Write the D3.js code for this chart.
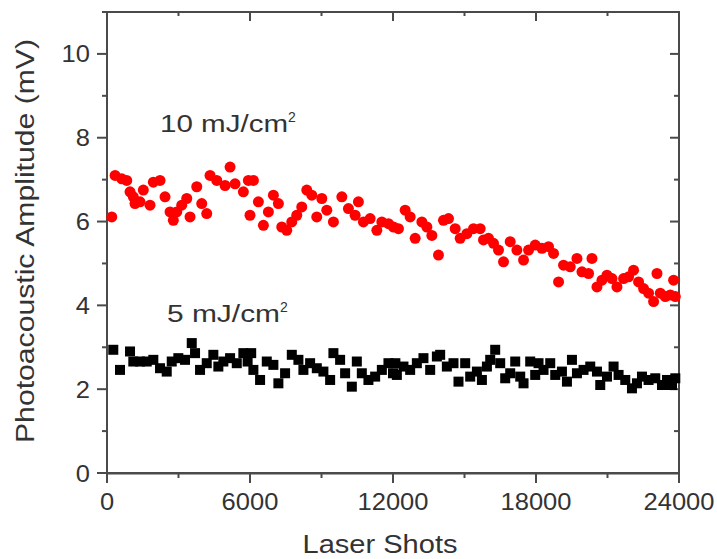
<!DOCTYPE html>
<html>
<head>
<meta charset="utf-8">
<script src="https://cdn.jsdelivr.net/npm/d3@7"></script>
<style>
html,body{margin:0;padding:0;background:#fff;}
svg{display:block;}
text{font-family:"Liberation Sans", Arial, sans-serif;fill:#333;}
</style>
</head>
<body>
<script>
// ---- data ----
const redShots = [200,340,620,827,966,1104,1175,1385,1524,1805,1944,2225,2435,2645,2783,2926,3136,3346,3484,3766,3975,4185,4324,4605,4954,5164,5373,5722,5932,6000,6142,6352,6562,6772,6981,7191,7333,7542,7752,7962,8172,8382,8592,8802,9012,9222,9500,9853,10130,10411,10549,10759,11040,11322,11532,11810,12020,12229,12510,12720,12930,13211,13421,13631,13908,14118,14328,14609,14819,15100,15377,15658,15797,16007,16217,16427,16637,16918,17199,17477,17687,17967,18249,18526,18736,18946,19155,19437,19718,19928,20205,20348,20558,20768,20978,21188,21397,21675,21884,22094,22304,22514,22724,22934,23077,23215,23425,23635,23774,23845];
const redAmp = [6.11,7.10,7.02,6.98,6.71,6.59,6.43,6.47,6.75,6.39,6.94,6.98,6.59,6.23,6.03,6.23,6.39,6.55,6.11,6.83,6.43,6.19,7.10,6.98,6.86,7.30,6.90,6.71,6.98,6.15,6.98,6.47,5.91,6.23,6.63,6.43,5.87,5.79,5.99,6.15,6.35,6.75,6.63,6.11,6.55,6.27,5.99,6.59,6.31,6.15,6.47,5.99,6.07,5.79,5.99,5.95,5.87,5.83,6.27,6.11,5.60,5.99,5.87,5.67,5.20,6.03,6.07,5.83,5.60,5.71,5.83,5.83,5.56,5.60,5.48,5.32,5.04,5.52,5.32,5.08,5.32,5.44,5.36,5.40,5.24,4.56,4.96,4.92,5.12,4.80,4.76,5.12,4.44,4.60,4.72,4.64,4.44,4.64,4.68,4.84,4.56,4.40,4.29,4.09,4.76,4.29,4.21,4.25,4.60,4.21];
const blackShots = [264,546,966,1104,1385,1667,1944,2225,2506,2716,2993,3274,3556,3694,3904,4185,4462,4672,4882,5164,5445,5722,5900,6050,6142,6423,6704,6981,7191,7472,7754,8031,8241,8522,8803,9080,9362,9500,9781,9991,10273,10482,10692,10969,11251,11532,11809,12000,12100,12162,12439,12720,13001,13278,13560,13841,13979,14260,14538,14748,15029,15239,15520,15730,15940,16079,16288,16498,16708,16918,17128,17338,17477,17757,17967,18106,18316,18597,18807,19088,19298,19508,19718,19995,20276,20558,20696,20978,21255,21465,21745,22026,22236,22446,22723,23004,23286,23496,23706,23845];
const blackAmp = [2.94,2.46,2.90,2.66,2.66,2.66,2.70,2.50,2.42,2.66,2.74,2.70,3.10,2.86,2.46,2.62,2.82,2.54,2.66,2.74,2.62,2.86,2.66,2.86,2.46,2.22,2.66,2.58,2.14,2.38,2.82,2.70,2.46,2.62,2.50,2.42,2.22,2.86,2.70,2.38,2.06,2.66,2.38,2.22,2.30,2.46,2.62,2.38,2.62,2.34,2.54,2.46,2.62,2.74,2.46,2.78,2.82,2.54,2.62,2.18,2.62,2.30,2.42,2.22,2.54,2.70,2.94,2.62,2.26,2.38,2.66,2.30,2.14,2.66,2.34,2.62,2.46,2.62,2.34,2.42,2.18,2.70,2.38,2.46,2.54,2.42,2.10,2.30,2.54,2.34,2.22,2.02,2.14,2.30,2.22,2.26,2.10,2.22,2.10,2.26];
const xTicks = [0,6000,12000,18000,24000];
const yTicks = [0,2,4,6,8,10];
const xLabel = "Laser Shots";
const yLabel = "Photoacoustic Amplitude (mV)";

// ---- layout ----
const W = 717, H = 559;
const L = 107, R = 679, T = 12, B = 473;
const svg = d3.select("body").append("svg").attr("width", W).attr("height", H);
const x = d3.scaleLinear().domain([0,24000]).range([L,R]);
const y = d3.scaleLinear().domain([0,11]).range([B,T]);
const axisColor = "#4a4a4a";

const xMinor = d3.range(0,24001,3000);
const yMinor = d3.range(0,11.01,1);

// bottom axis via d3 (domain only), ticks drawn from scale values
const gB = svg.append("g").attr("transform",`translate(0,${B})`)
  .call(d3.axisBottom(x).tickValues(xMinor).tickSizeOuter(0).tickSize(0).tickFormat(""));
gB.selectAll(".tick line").remove();
gB.select(".domain").attr("stroke",axisColor).attr("stroke-width",2);

const tickG = svg.append("g").attr("stroke",axisColor).attr("stroke-width",2);
xMinor.forEach(v=>{
  const major = xTicks.includes(v);
  tickG.append("line").attr("x1",x(v)).attr("x2",x(v)).attr("y1",B).attr("y2",B+(major?10:5));
  tickG.append("line").attr("x1",x(v)).attr("x2",x(v)).attr("y1",T).attr("y2",T+(major?9:4));
});
yMinor.forEach(v=>{
  const major = yTicks.includes(v);
  tickG.append("line").attr("y1",y(v)).attr("y2",y(v)).attr("x1",L).attr("x2",L-(major?10:5));
  tickG.append("line").attr("y1",y(v)).attr("y2",y(v)).attr("x1",R).attr("x2",R-(major?9:5));
});
svg.append("rect").attr("x",L).attr("y",T).attr("width",R-L).attr("height",B-T)
  .attr("fill","none").attr("stroke",axisColor).attr("stroke-width",2);

// tick labels
const digitW = 14.2;
svg.append("g").selectAll("text").data(xTicks).join("text")
  .attr("x",d=>x(d)).attr("y",B+37).attr("text-anchor","middle")
  .attr("font-size",24).attr("textLength",d=>String(d).length*digitW)
  .attr("lengthAdjust","spacingAndGlyphs").text(d=>d);
svg.append("g").selectAll("text").data(yTicks).join("text")
  .attr("x",L-17).attr("y",d=>y(d)+8.5).attr("text-anchor","end")
  .attr("font-size",24).attr("textLength",d=>String(d).length*digitW)
  .attr("lengthAdjust","spacingAndGlyphs").text(d=>d);

// axis titles
svg.append("text").attr("x",380).attr("y",553).attr("text-anchor","middle")
  .attr("font-size",25).attr("textLength",155).attr("lengthAdjust","spacingAndGlyphs").text(xLabel);
svg.append("text").attr("transform","translate(34,241) rotate(-90)")
  .attr("text-anchor","middle").attr("font-size",25)
  .attr("textLength",404).attr("lengthAdjust","spacingAndGlyphs").text(yLabel);

// data
const dots = svg.append("g");
dots.selectAll("circle").data(redShots).join("circle")
  .attr("cx",d=>x(d)).attr("cy",(d,i)=>y(redAmp[i])).attr("r",5.5)
  .attr("fill","#ff0000");
const s = 10;
dots.selectAll("rect.sq").data(blackShots).join("rect").attr("class","sq")
  .attr("x",d=>x(d)-s/2).attr("y",(d,i)=>y(blackAmp[i])-s/2)
  .attr("width",s).attr("height",s).attr("fill","#000");

// annotations
function ann(tx,ty,main,len){
  const t = svg.append("text").attr("x",tx).attr("y",ty).attr("font-size",23);
  t.append("tspan").attr("textLength",len).attr("lengthAdjust","spacingAndGlyphs").text(main);
  t.append("tspan").attr("dy",-10).attr("font-size",14).text("2");
}
ann(160,132,"10 mJ/cm",128);
ann(167,322,"5 mJ/cm",113);
</script>
</body>
</html>
